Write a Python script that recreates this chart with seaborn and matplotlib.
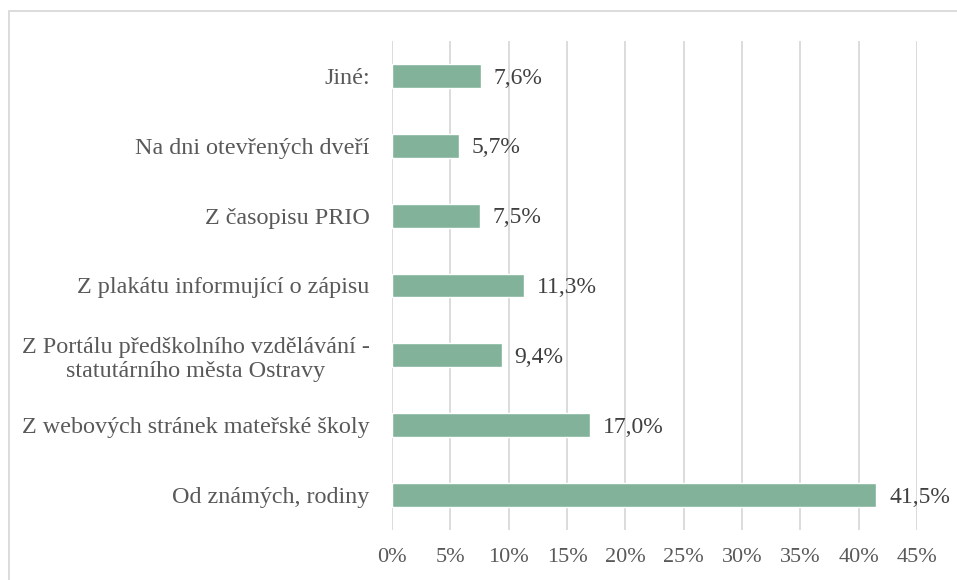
import matplotlib
matplotlib.use("Agg")
import matplotlib.pyplot as plt
import seaborn as sns
import pandas as pd
from matplotlib.patches import Rectangle

categories = [
    "Jiné:",
    "Na dni otevřených dveří",
    "Z časopisu PRIO",
    "Z plakátu informující o zápisu",
    "Z Portálu předškolního vzdělávání -\nstatutárního města Ostravy",
    "Z webových stránek mateřské školy",
    "Od známých, rodiny",
]
values = [7.6, 5.7, 7.5, 11.3, 9.4, 17.0, 41.5]
xticks = [0, 5, 10, 15, 20, 25, 30, 35, 40, 45]

sns.set_theme(style="white")
plt.rcParams["font.family"] = ["Liberation Serif", "DejaVu Serif"]

df = pd.DataFrame({"cat": categories, "val": values})

fig = plt.figure(figsize=(9.57, 5.8), dpi=100)
ax = fig.add_axes([392 / 957, 1 - 530 / 580, (917 - 392) / 957, (530 - 41) / 580])

sns.barplot(data=df, y="cat", x="val", orient="h", color="#82B39A",
            width=0.34, saturation=1, ax=ax, zorder=3)

ax.set_xlim(0, 45)
ax.set_ylim(6.5, -0.5)
ax.set_xticks(xticks)
ax.set_xticklabels([f"{t}%" for t in xticks], fontsize=16, color="#595959")
ax.tick_params(axis="x", length=0, pad=13)
ax.tick_params(axis="y", length=0, pad=16)
for lbl in ax.get_yticklabels():
    lbl.set_fontsize(17.4)
    lbl.set_color("#595959")
    lbl.set_multialignment("center")
ax.set_xlabel("")
ax.set_ylabel("")
ax.grid(axis="x", color="#D9D9D9", linewidth=1.3, zorder=0)
ax.grid(axis="y", visible=False)
for s in ax.spines.values():
    s.set_visible(False)

for i, v in enumerate(values):
    ax.text(v + 1.1, i + 0.03, f"{v:.1f}%".replace(".", ","), va="center", ha="left",
            fontsize=17, color="#404040")

fig.patches.append(Rectangle((9 / 957, -0.05), 1.1, 1 - 11 / 580 + 0.05,
                             transform=fig.transFigure, fill=False,
                             edgecolor="#D9D9D9", linewidth=1.3))

fig.savefig("out.png", dpi=100)
